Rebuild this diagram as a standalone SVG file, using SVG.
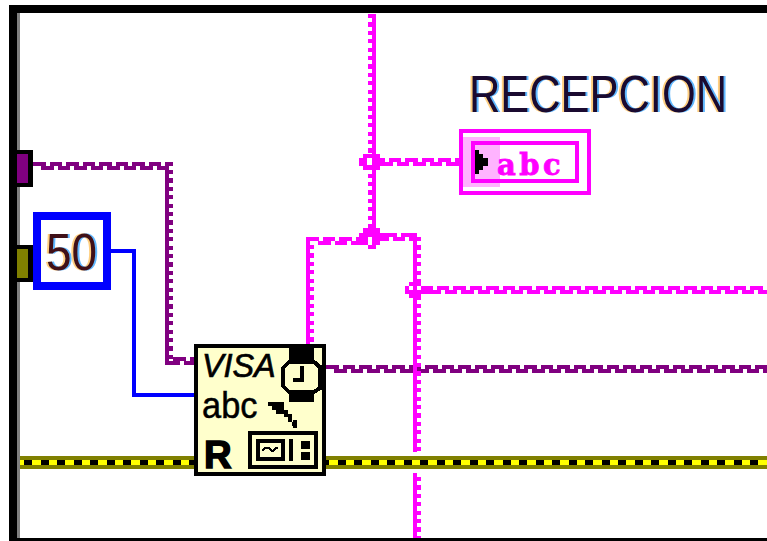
<svg xmlns="http://www.w3.org/2000/svg" width="767" height="541" viewBox="0 0 767 541">
<style>
.f{fill:none;shape-rendering:crispEdges}
.pk{stroke:#ff00ff;stroke-width:4}
.pu{stroke:#800080;stroke-width:4}
.h{stroke-dasharray:12.5 4}
.v{stroke-dasharray:4.2 4.2}
.t{font-family:"Liberation Sans",Arial,sans-serif}
.b{fill:#000}
.j{fill:#ff00ff;shape-rendering:crispEdges}
.w{fill:#fff;shape-rendering:crispEdges}
</style>
<defs>
<filter id="fringe" x="-10%" y="-10%" width="120%" height="120%" color-interpolation-filters="sRGB">
<feFlood flood-color="#ffcf80" result="o"/>
<feOffset in="SourceAlpha" dx="-2.5" result="l"/>
<feComposite in="o" in2="l" operator="in" result="ol"/>
<feFlood flood-color="#60b8ff" result="c"/>
<feOffset in="SourceAlpha" dx="2.5" result="r"/>
<feComposite in="c" in2="r" operator="in" result="cr"/>
<feMerge><feMergeNode in="ol"/><feMergeNode in="cr"/><feMergeNode in="SourceGraphic"/></feMerge>
</filter>
</defs>
<rect width="767" height="541" fill="#fff"/>
<g id="frame" shape-rendering="crispEdges">
<rect x="9" y="5" width="758" height="8" fill="#000"/>
<rect x="9" y="5" width="8" height="536" fill="#000"/>
<rect x="17" y="13" width="3" height="525" fill="#808080"/>
<rect x="17" y="538" width="750" height="3" fill="#000"/>
</g>
<g id="connectors">
<g id="wire-blue" class="f"><path d="M109 251H134V395H195" stroke="#0000ff" stroke-width="4"/></g>
<g id="wire-purple" class="f">
<path class="pu h" d="M33 164H173"/><path class="pu h" d="M41 168H167"/>
<path class="pu" d="M167 162V365"/><path class="pu v" d="M171 170V360"/>
<path class="pu h" d="M173 359H195"/><path class="pu h" d="M167 363H195"/>
<path class="pu h" d="M326 367H767"/><path class="pu h" d="M334 371H767"/>
</g>
<g id="wire-yellow" class="f">
<path d="M20 462.500H767" stroke="#808000" stroke-width="13"/>
<path d="M20 462.500H767" stroke="#ffff00" stroke-width="5"/>
<path d="M20 462.500H767" stroke="#000" stroke-width="5" stroke-dasharray="8.25 8.25" stroke-dashoffset="12.5"/>
</g>
<g id="wire-pink" class="f">
<path class="pk" d="M374 14V238"/><path class="pk v" d="M370 14V232"/>
<path class="pk h" d="M372 160H460"/><path class="pk h" d="M380 164H460"/>
<path class="pk h" d="M306 239H372"/><path class="pk h" d="M318 243H372"/>
<path class="pk h" d="M376 239H417"/><path class="pk h" d="M384 235H417"/>
<path class="pk" d="M308 237V345"/><path class="pk v" d="M312 245V345"/>
<path class="pk" d="M415 233V452"/><path class="pk v" d="M419 237V452"/>
<path class="pk" d="M415 473V538"/><path class="pk v" d="M419 477V538"/>
<path class="pk h" d="M420 288H767"/><path class="pk h" d="M428 292H767"/>
</g>
<g id="junction-1"><path class="j" d="M363 154h17v4h4v8h-4v4h-17v-4h-4v-8h4z"/><rect class="w" x="367" y="158" width="5" height="7"/></g>
<g id="junction-2"><path class="j" d="M363 228h17v5h4v8h-4v4h-4v4h-8v-4h-9v-12h4z"/><rect class="w" x="368" y="237" width="4" height="8"/></g>
<g id="junction-3"><path class="j" d="M409 282h12v4h5v4h4v4h-9v4h-12v-4h-4v-8h4z"/><rect class="w" x="409" y="286" width="4" height="4"/><rect class="w" x="417" y="286" width="4" height="4"/></g>
</g>
<g id="terminal-top" shape-rendering="crispEdges"><rect x="17" y="150" width="16" height="37" fill="#000"/><rect x="17" y="154" width="11" height="29" fill="#800080"/></g>
<g id="terminal-bottom" shape-rendering="crispEdges"><rect x="17" y="245" width="16" height="37" fill="#000"/><rect x="17" y="249" width="11" height="29" fill="#808000"/></g>
<g id="const-50"><rect x="37" y="216" width="70" height="70" fill="#fff" stroke="#0000ff" stroke-width="8" shape-rendering="crispEdges"/>
<text class="t" transform="translate(46 270) scale(.9 1)" font-size="51" fill="#401018" filter="url(#fringe)">50</text></g>
<g id="title-recepcion"><text class="t" transform="translate(469 112) scale(.851 1)" font-size="51" fill="#1a0a30" filter="url(#fringe)">RECEPCION</text></g>
<g id="indicator-abc" shape-rendering="crispEdges">
<rect x="461" y="131" width="128" height="62" fill="#fff" stroke="#ff00ff" stroke-width="4"/>
<rect x="463" y="137" width="37" height="50" fill="#ffb3ff"/>
<rect x="473" y="143" width="104" height="38" fill="none" stroke="#ff00ff" stroke-width="4"/>
<path d="M475 150h4v4h4v4h5v8h-5v4h-4v4h-4z" fill="#000"/>
<text x="497" y="175" font-family="'DejaVu Serif',serif" font-weight="bold" font-size="29" letter-spacing="3.500" fill="#ff00ff" stroke="#ff00ff" stroke-width=".8">abc</text>
</g>
<g id="visa-read">
<rect x="196" y="346" width="128" height="128" fill="#ffffcc" stroke="#000" stroke-width="4" shape-rendering="crispEdges"/>
<g shape-rendering="crispEdges">
<rect class="b" x="289" y="346" width="25" height="14"/>
<rect class="b" x="289" y="394" width="25" height="8"/>
<path d="M289 362h25l6 5v21l-6 4h-25l-6-6v-18z" fill="none" stroke="#000" stroke-width="4"/>
<path d="M302 366v14h-9" fill="none" stroke="#000" stroke-width="4"/>
<rect class="b" x="318" y="365" width="6" height="25"/>
<path class="b" d="M268 402h16v8h4v4h4v4h-4v-1h-4v-3h-8v-4h-4v-4h-4z"/>
<path class="b" d="M288 418h4v4h4v4h-0v0h-4v-4h-4z"/>
<rect class="b" x="293" y="420" width="4" height="8"/>
<rect x="250" y="433" width="66" height="34" fill="none" stroke="#000" stroke-width="4"/>
<rect x="258" y="441" width="25" height="18" fill="none" stroke="#000" stroke-width="4"/>
<path d="M262 451l3-3h4l3 3h1l3-3h2" fill="none" stroke="#000" stroke-width="2"/>
<rect class="b" x="289" y="439" width="4" height="22"/>
<rect class="b" x="301" y="441" width="9" height="8"/>
<rect class="b" x="301" y="452" width="9" height="8"/>
</g>
<text class="t" transform="translate(202 377) scale(.98 1)" font-size="33" font-style="italic" stroke="#000" stroke-width=".7">VISA</text>
<text class="t" transform="translate(202 418) scale(.93 1)" font-size="37" stroke="#000" stroke-width=".5">abc</text>
<text class="t" transform="translate(204 468) scale(.98 1)" font-weight="bold" font-size="39" stroke="#000" stroke-width="1.5">R</text>
</g>
</svg>
